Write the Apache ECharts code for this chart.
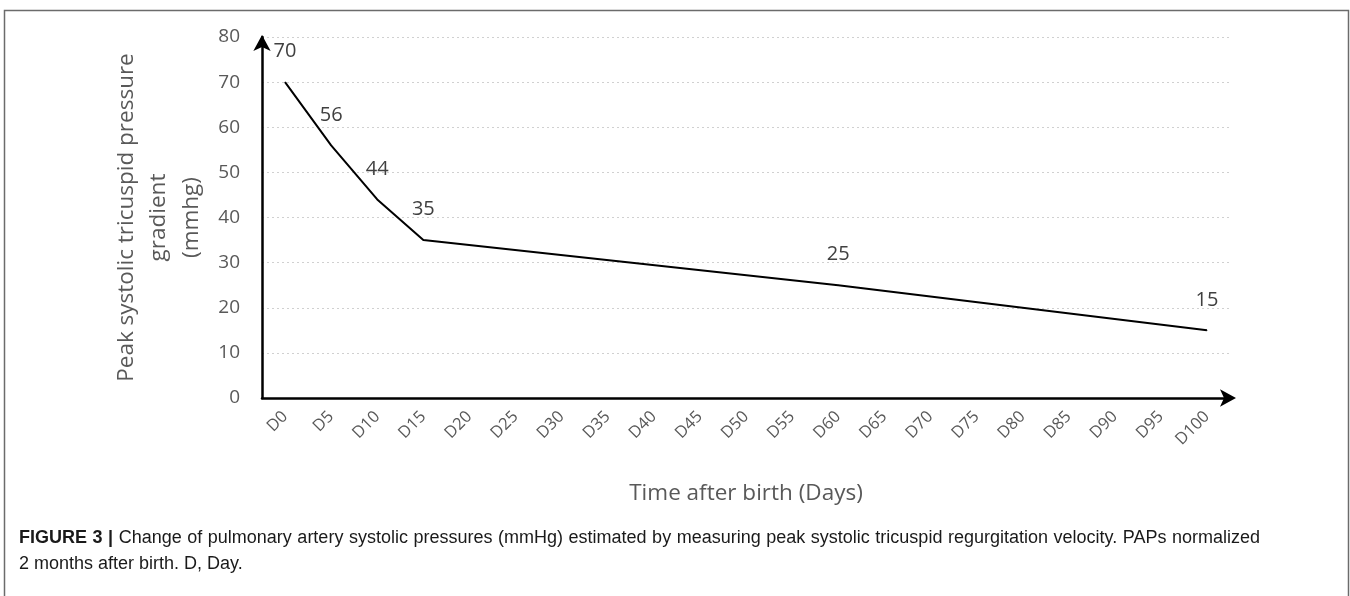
<!DOCTYPE html>
<html>
<head>
<meta charset="utf-8">
<script src="https://cdn.jsdelivr.net/npm/echarts@6/dist/echarts.min.js"></script>
<style>
html,body{margin:0;padding:0;background:#fff;}
#c{width:1350px;height:596px;}
</style>
</head>
<body>
<div id="c"></div>
<script>
const categories = ['D0','D5','D10','D15','D20','D25','D30','D35','D40','D45','D50','D55','D60','D65','D70','D75','D80','D85','D90','D95','D100'];
const pressureValues = [70, 56, 44, 35, null, null, null, null, null, null, null, null, 25, null, null, null, null, null, null, null, 15];
const yTicks = [0, 10, 20, 30, 40, 50, 60, 70, 80];
const yAxisTitle = 'Peak systolic tricuspid pressure\ngradient\n(mmhg)';
const xAxisTitle = 'Time after birth (Days)';
const captionBold = 'FIGURE 3 |';
const captionLine1 = 'Change of pulmonary artery systolic pressures (mmHg) estimated by measuring peak systolic tricuspid regurgitation velocity. PAPs normalized';
const captionLine2 = '2 months after birth. D, Day.';

const chart = echarts.init(document.getElementById('c'), null, {renderer: 'canvas'});
const font = '"Open Sans", "Noto Sans", sans-serif';
const capFamily = '"Liberation Sans", Arial, sans-serif';
const capSize = 18;

// Justified first caption line, placed word by word.
const mctx = document.createElement('canvas').getContext('2d');
function measure(word, bold) {
  mctx.font = (bold ? 'bold ' : '') + capSize + 'px ' + capFamily;
  return mctx.measureText(word).width;
}
const capWords = captionBold.split(' ').map(w => ({w, bold: true}))
  .concat(captionLine1.split(' ').map(w => ({w, bold: false})));
const capLeft = 19, capRight = 1260;
let totalW = 0;
capWords.forEach(o => { o.width = measure(o.w, o.bold); totalW += o.width; });
const gap = (capRight - capLeft - totalW) / (capWords.length - 1);
const captionGraphics = [];
let cx = capLeft;
capWords.forEach(o => {
  captionGraphics.push({
    type: 'text', x: cx, y: 538, silent: true,
    style: {text: o.w, fontSize: capSize, fontWeight: o.bold ? 'bold' : 'normal', fill: '#1a1a1a', fontFamily: capFamily, verticalAlign: 'middle', align: 'left'}
  });
  cx += o.width + gap;
});
captionGraphics.push({
  type: 'text', x: capLeft, y: 564, silent: true,
  style: {text: captionLine2, fontSize: capSize, fill: '#1a1a1a', fontFamily: capFamily, verticalAlign: 'middle', align: 'left'}
});

chart.setOption({
  animation: false,
  backgroundColor: '#ffffff',
  grid: {left: 262, right: 120, top: 37, bottom: 198, containLabel: false},
  xAxis: {
    type: 'category',
    data: categories,
    boundaryGap: true,
    axisLine: {show: true, symbol: ['none', 'arrow'], symbolSize: [13, 16], symbolOffset: [0, 6], lineStyle: {color: '#000', width: 2.5}},
    axisTick: {show: false},
    axisLabel: {rotate: 45, margin: 16, fontSize: 16.5, color: '#595959', fontFamily: font, interval: 0},
    name: xAxisTitle,
    nameLocation: 'middle',
    nameGap: 84,
    nameTextStyle: {fontSize: 22.5, color: '#595959', fontFamily: font},
    splitLine: {show: false}
  },
  yAxis: {
    type: 'value',
    min: yTicks[0],
    max: yTicks[yTicks.length - 1],
    interval: 10,
    axisLine: {show: true, symbol: ['none', 'arrow'], symbolSize: [13, 16], symbolOffset: [0, 2], lineStyle: {color: '#000', width: 2.5}},
    axisTick: {show: false},
    axisLabel: {margin: 22, fontSize: 19, color: '#595959', fontFamily: font},
    splitLine: {show: true, lineStyle: {color: '#d0d0d0', type: [2, 3], width: 1.2}},
    name: yAxisTitle,
    nameLocation: 'middle',
    nameRotate: 90,
    nameGap: 50,
    nameTextStyle: {fontSize: 22.5, lineHeight: 32.5, color: '#595959', fontFamily: font, align: 'center'}
  },
  series: [{
    type: 'line',
    data: pressureValues,
    connectNulls: true,
    symbol: 'circle',
    symbolSize: 1,
    showSymbol: true,
    itemStyle: {color: '#000'},
    lineStyle: {color: '#000', width: 2},
    label: {show: true, position: 'top', distance: 20, fontSize: 20, color: '#404040', fontFamily: font},
    labelLayout: {hideOverlap: false},
    z: 5
  }],
  graphic: [
    {type: 'rect', shape: {x: 4.5, y: 10.5, width: 1344, height: 620}, style: {fill: 'none', stroke: '#6b6b6b', lineWidth: 1.5}, silent: true}
  ].concat(captionGraphics)
});
</script>
</body>
</html>
